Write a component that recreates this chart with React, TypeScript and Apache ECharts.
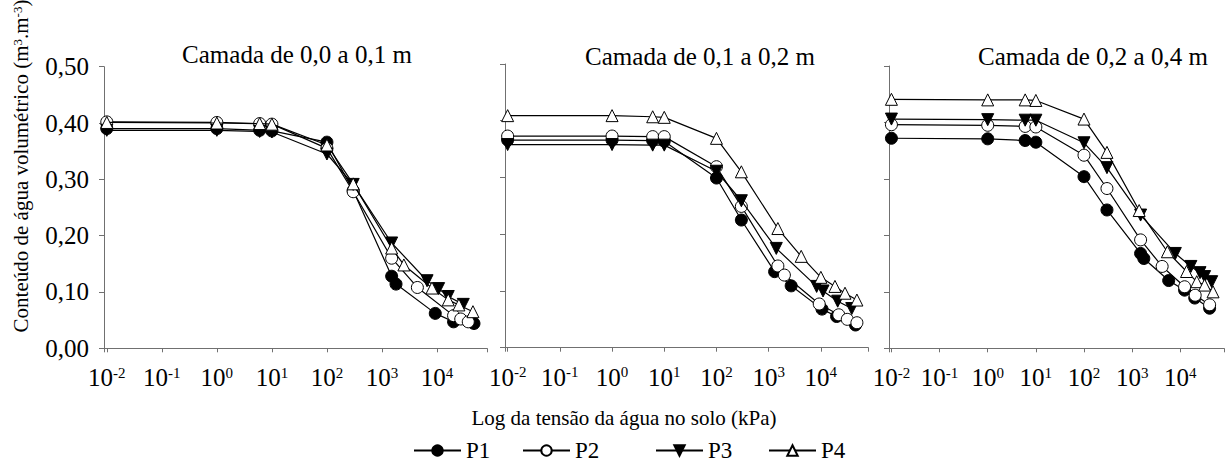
import React, { useEffect, useRef } from "react";
import * as echarts from "echarts";

// ---------- DATA ----------
const PANEL_TITLES = ["Camada de 0,0 a 0,1 m", "Camada de 0,1 a 0,2 m", "Camada de 0,2 a 0,4 m"];
const SERIES_NAMES = ["P1", "P2", "P3", "P4"];
const X_AXIS_NAME = "Log da tensão da água no solo (kPa)";
const Y_AXIS_NAME = "Conteúdo de água volumétrico (m{s|3}.m{s|-3})";

// Layer 0,0-0,1 m : tension (kPa) and volumetric water content (m3 m-3)
const L1_P1_KPA = [0.01, 1, 6, 10, 100, 300, 1500, 1800, 9300, 20000, 47000];
const L1_P1_VAL = [0.390, 0.390, 0.387, 0.386, 0.366, 0.280, 0.128, 0.114, 0.062, 0.047, 0.044];
const L1_P2_KPA = [0.01, 1, 6, 10, 100, 300, 1500, 4400, 20000, 27000, 37000];
const L1_P2_VAL = [0.402, 0.401, 0.399, 0.398, 0.355, 0.278, 0.160, 0.108, 0.058, 0.052, 0.047];
const L1_P3_KPA = [0.01, 1, 6, 10, 100, 300, 1500, 6600, 10700, 16000, 30000];
const L1_P3_VAL = [0.387, 0.387, 0.385, 0.384, 0.345, 0.291, 0.187, 0.120, 0.106, 0.092, 0.078];
const L1_P4_KPA = [0.01, 1, 6, 10, 100, 300, 1500, 2500, 8100, 16000, 25000, 45000];
const L1_P4_VAL = [0.401, 0.400, 0.399, 0.398, 0.361, 0.292, 0.178, 0.148, 0.107, 0.086, 0.077, 0.065];

// Layer 0,1-0,2 m
const L2_P1_KPA = [0.01, 1, 6, 10, 100, 300, 1300, 2700, 10500, 20000, 46000];
const L2_P1_VAL = [0.366, 0.366, 0.365, 0.364, 0.299, 0.225, 0.134, 0.109, 0.068, 0.055, 0.040];
const L2_P2_KPA = [0.01, 1, 6, 10, 100, 300, 1500, 2000, 9300, 22000, 32000, 49000];
const L2_P2_VAL = [0.373, 0.373, 0.372, 0.372, 0.319, 0.249, 0.144, 0.128, 0.077, 0.058, 0.050, 0.044];
const L2_P3_KPA = [0.01, 1, 6, 10, 100, 300, 1400, 8300, 11000, 21000, 39000];
const L2_P3_VAL = [0.358, 0.358, 0.357, 0.357, 0.311, 0.259, 0.175, 0.108, 0.100, 0.082, 0.069];
const L2_P4_KPA = [0.01, 1, 6, 10, 100, 300, 1500, 4200, 10000, 18600, 29000, 49000];
const L2_P4_VAL = [0.409, 0.409, 0.407, 0.406, 0.369, 0.310, 0.210, 0.161, 0.124, 0.108, 0.096, 0.084];

// Layer 0,2-0,4 m
const L3_P1_KPA = [0.01, 1, 6, 10, 100, 300, 1500, 1750, 5750, 12300, 20000, 40700];
const L3_P1_VAL = [0.372, 0.371, 0.368, 0.365, 0.304, 0.245, 0.168, 0.159, 0.120, 0.103, 0.089, 0.071];
const L3_P2_KPA = [0.01, 1, 6, 10, 100, 300, 1500, 4200, 12300, 20400, 40700];
const L3_P2_VAL = [0.396, 0.395, 0.393, 0.392, 0.342, 0.283, 0.192, 0.145, 0.109, 0.094, 0.077];
const L3_P3_KPA = [0.01, 1, 6, 10, 100, 300, 1500, 7900, 16600, 25700, 32000, 45000];
const L3_P3_VAL = [0.406, 0.405, 0.404, 0.404, 0.364, 0.320, 0.236, 0.168, 0.145, 0.134, 0.127, 0.118];
const L3_P4_KPA = [0.01, 1, 6, 10, 100, 300, 1400, 5400, 13500, 22000, 32000, 48000];
const L3_P4_VAL = [0.441, 0.440, 0.440, 0.439, 0.406, 0.347, 0.244, 0.171, 0.136, 0.118, 0.112, 0.100];

const PANELS = [
  [[L1_P1_KPA, L1_P1_VAL], [L1_P2_KPA, L1_P2_VAL], [L1_P3_KPA, L1_P3_VAL], [L1_P4_KPA, L1_P4_VAL]],
  [[L2_P1_KPA, L2_P1_VAL], [L2_P2_KPA, L2_P2_VAL], [L2_P3_KPA, L2_P3_VAL], [L2_P4_KPA, L2_P4_VAL]],
  [[L3_P1_KPA, L3_P1_VAL], [L3_P2_KPA, L3_P2_VAL], [L3_P3_KPA, L3_P3_VAL], [L3_P4_KPA, L3_P4_VAL]],
];

const X_MIN = 0.0089;
const X_MAX = 81000;
const Y_MIN = 0;
const Y_MAX = 0.5;
const Y_STEP = 0.1;

// ---------- STYLE / LAYOUT ----------
const FONT = "'Liberation Serif', 'Times New Roman', serif";
const AXIS_COLOR = "#707070";
const GRIDS = [
  { left: 104, top: 66.7, width: 383, height: 281.6 },
  { left: 505, top: 64, width: 363.3, height: 283.7 },
  { left: 889, top: 66, width: 340.4, height: 282.3 },
];
const TITLE_POS = [
  [297, 54],
  [700, 56.5],
  [1093, 56.5],
];
const LEGEND_LEFT = [408, 517, 650, 763];
const MARKERS = [
  { symbol: "circle", fill: "#000", rotate: 0, size: 12 },
  { symbol: "circle", fill: "#fff", rotate: 0, size: 12 },
  { symbol: "triangle", fill: "#000", rotate: 180, size: 12 },
  { symbol: "triangle", fill: "#fff", rotate: 0, size: 12 },
];

function xLabel(value: number) {
  const e = Math.log10(value);
  const r = Math.round(e);
  if (Math.abs(e - r) > 1e-6) return "";
  return `{b|10}{s|${r}}`;
}

export default function App() {
  const ref = useRef<HTMLDivElement>(null);

  useEffect(() => {
    if (!ref.current) return;
    const chart = echarts.init(ref.current, undefined, { renderer: "svg" });

    const series: any[] = [];
    PANELS.forEach((panel, p) => {
      panel.forEach(([kpa, val], s) => {
        const m = MARKERS[s];
        series.push({
          type: "line",
          name: SERIES_NAMES[s],
          xAxisIndex: p,
          yAxisIndex: p,
          data: kpa.map((k, i) => [k, val[i]]),
          symbol: m.symbol,
          symbolSize: m.size,
          symbolRotate: m.rotate,
          showSymbol: true,
          lineStyle: { color: "#000", width: 1.2 },
          itemStyle: { color: m.fill, borderColor: "#000", borderWidth: 1 },
          emphasis: { disabled: true },
          z: 2 + s,
        });
      });
    });

    const option: any = {
      animation: false,
      backgroundColor: "#fff",
      textStyle: { fontFamily: FONT, color: "#000" },
      grid: GRIDS.map((g) => ({ ...g, containLabel: false })),
      xAxis: GRIDS.map((_, i) => ({
        type: "log",
        logBase: 10,
        gridIndex: i,
        min: X_MIN,
        max: X_MAX,
        axisLine: { show: true, onZero: false, lineStyle: { color: AXIS_COLOR, width: 1 } },
        axisTick: { show: true, length: 4, lineStyle: { color: AXIS_COLOR } },
        splitLine: { show: false },
        minorTick: { show: false },
        axisLabel: {
          show: true,
          margin: 17,
          formatter: xLabel,
          hideOverlap: false,
          fontFamily: FONT,
          rich: {
            b: { fontFamily: FONT, fontSize: 25, lineHeight: 25, color: "#000" },
            s: { fontFamily: FONT, fontSize: 15, lineHeight: 15, color: "#000", verticalAlign: "top" },
          },
        },
      })),
      yAxis: GRIDS.map((_, i) => ({
        type: "value",
        gridIndex: i,
        min: Y_MIN,
        max: Y_MAX,
        interval: Y_STEP,
        axisLine: { show: true, lineStyle: { color: AXIS_COLOR, width: 1 } },
        axisTick: { show: true, length: 5, lineStyle: { color: AXIS_COLOR } },
        splitLine: { show: false },
        axisLabel: {
          show: i === 0,
          margin: 15,
          fontFamily: FONT,
          fontSize: 25,
          color: "#000",
          formatter: (v: number) => v.toFixed(2).replace(".", ","),
        },
      })),
      legend: SERIES_NAMES.map((n, i) => ({
        data: [n],
        left: LEGEND_LEFT[i],
        top: 434,
        orient: "horizontal",
        itemWidth: 47,
        itemHeight: 13,
        selectedMode: false,
        textStyle: { fontFamily: FONT, fontSize: 23, color: "#000" },
      })),
      graphic: [
        ...PANEL_TITLES.map((t, i) => ({
          type: "text",
          x: TITLE_POS[i][0],
          y: TITLE_POS[i][1],
          style: {
            text: t,
            fontFamily: FONT,
            fontSize: 25,
            fill: "#000",
            align: "center",
            verticalAlign: "middle",
          },
        })),
        {
          type: "text",
          x: 624,
          y: 418,
          style: {
            text: X_AXIS_NAME,
            fontFamily: FONT,
            fontSize: 21,
            fill: "#000",
            align: "center",
            verticalAlign: "middle",
          },
        },
        {
          type: "text",
          x: 21,
          y: 166,
          rotation: Math.PI / 2,
          style: {
            text: Y_AXIS_NAME,
            fontFamily: FONT,
            fontSize: 21,
            fill: "#000",
            align: "center",
            verticalAlign: "middle",
            rich: {
              s: { fontFamily: FONT, fontSize: 13, lineHeight: 13, verticalAlign: "top", fill: "#000" },
            },
          },
        },
      ],
      series,
    };

    chart.setOption(option);
    return () => chart.dispose();
  }, []);

  return (
    <div
      ref={ref}
      style={{ position: "fixed", left: 0, top: 0, width: 1227, height: 465, background: "#fff" }}
    />
  );
}
